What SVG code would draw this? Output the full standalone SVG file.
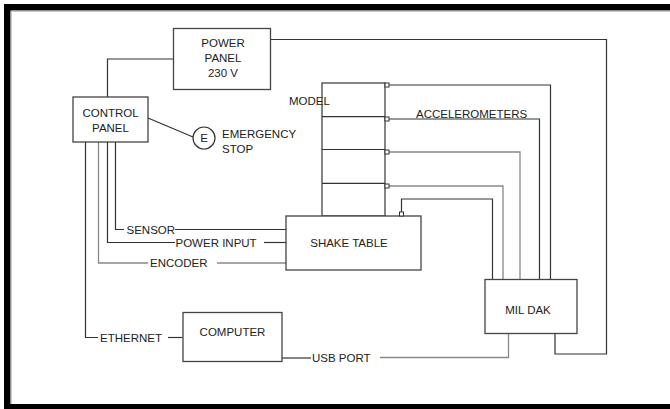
<svg xmlns="http://www.w3.org/2000/svg" width="670" height="409" viewBox="0 0 670 409">
<style>
.box{fill:#fff;stroke:#444;stroke-width:1.3}
.ln{fill:none;stroke:#333;stroke-width:1.2}
.lg{fill:none;stroke:#888;stroke-width:1.3}
.sq{fill:#fff;stroke:#333;stroke-width:1}
text{font-family:"Liberation Sans",Arial,sans-serif;font-size:11.5px;fill:#222}
.c{text-anchor:middle}
</style>
<rect width="670" height="409" fill="#fff"/>
<g id="frame">
<rect x="4" y="4" width="666" height="6.5" fill="#000"/>
<rect x="4" y="4" width="6.5" height="405" fill="#000"/>
<rect x="4" y="404" width="666" height="5" fill="#000"/>
<line x1="11" y1="11" x2="670" y2="11" stroke="#999" stroke-width="1"/>
<line x1="11" y1="11" x2="11" y2="404" stroke="#999" stroke-width="1"/>
</g>
<g id="connectors">
<path class="ln" d="M173,59H107.5V97"/>
<path class="ln" d="M148,118L193,137"/>
<path class="ln" d="M270,39.5H606.5V354H555V333.5"/>
<path class="ln" d="M115.5,142V229.5H124"/>
<path class="ln" d="M175,229.5H286"/>
<path class="ln" d="M107.5,142V242.5H175"/>
<path class="ln" d="M264,242.5H286"/>
<path class="lg" d="M98.5,142V263H148"/>
<path class="lg" d="M217,263H286"/>
<path class="ln" d="M85.5,142V337.5H98"/>
<path class="ln" d="M168,337.5H182.5"/>
<path class="ln" d="M281.5,358H311"/>
<path class="lg" d="M380,357.5H508.5V333.5"/>
<path class="ln" d="M389,85H550.5V279"/>
<path class="ln" d="M389,119H539.5V279"/>
<path class="lg" d="M389,152H520V279"/>
<path class="lg" d="M389,186H503V279"/>
<path class="ln" d="M401.5,212V199H492.5V279"/>
</g>
<g id="model">
<rect class="box" x="322" y="83" width="63" height="133"/>
<line class="ln" x1="322" y1="116.7" x2="385" y2="116.7"/>
<line class="ln" x1="322" y1="149.5" x2="385" y2="149.5"/>
<line class="ln" x1="322" y1="183.3" x2="385" y2="183.3"/>
<rect class="sq" x="385" y="83" width="4" height="4"/>
<rect class="sq" x="385" y="117" width="4" height="4"/>
<rect class="sq" x="385" y="150" width="4" height="4"/>
<rect class="sq" x="385" y="184" width="4" height="4"/>
<text x="289" y="105">MODEL</text>
</g>
<g id="accelerometers-label"><text x="416" y="118">ACCELEROMETERS</text></g>
<g id="power-panel">
<rect class="box" x="173.5" y="28.5" width="97" height="61"/>
<text class="c" x="223" y="47">POWER</text>
<text class="c" x="223" y="62">PANEL</text>
<text class="c" x="223" y="77">230 V</text>
</g>
<g id="control-panel">
<rect class="box" x="73" y="97" width="75" height="45"/>
<text class="c" x="110.5" y="117">CONTROL</text>
<text class="c" x="110.5" y="132">PANEL</text>
</g>
<g id="emergency-stop">
<circle cx="204" cy="138" r="11" fill="#fff" stroke="#333" stroke-width="1.2"/>
<text class="c" x="204" y="142">E</text>
<text x="222" y="138">EMERGENCY</text>
<text x="222" y="153">STOP</text>
</g>
<g id="shake-table">
<rect class="box" x="286" y="216" width="135" height="54"/>
<rect class="sq" x="399.5" y="212" width="4" height="4"/>
<text class="c" x="349" y="247">SHAKE TABLE</text>
</g>
<g id="mil-dak">
<rect class="box" x="485" y="279.5" width="92" height="54"/>
<text class="c" x="528" y="314">MIL DAK</text>
</g>
<g id="computer">
<rect class="box" x="183" y="312.5" width="99" height="49"/>
<text class="c" x="232.5" y="336">COMPUTER</text>
</g>
<g id="labels">
<text x="126.5" y="233.5">SENSOR</text>
<text x="175.5" y="246.5">POWER INPUT</text>
<text x="150" y="267">ENCODER</text>
<text x="100" y="341.5">ETHERNET</text>
<text x="312" y="362">USB PORT</text>
</g>
</svg>
